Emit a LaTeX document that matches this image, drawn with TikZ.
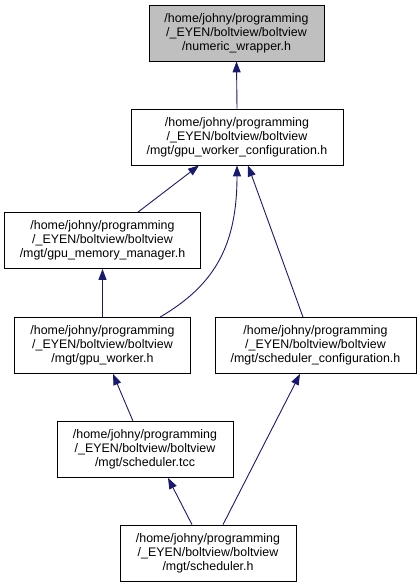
\documentclass[tikz,border=0pt]{standalone}
\usepackage{fontspec}
\setmainfont{Liberation Sans}
\usetikzlibrary{arrows.meta}

\definecolor{edgeblue}{RGB}{25,25,112}
\tikzset{
  file/.style={draw,thick,align=center,inner sep=2pt,minimum height=56pt,
    font=\fontsize{12.4}{13.8}\selectfont},
  dep/.style={<-,draw=edgeblue,line width=0.9pt,
    >={Triangle[length=11pt,width=8pt,fill=edgeblue]}}
}

\begin{document}
\begin{tikzpicture}[x=1pt,y=-1pt]
\useasboundingbox (0,0) rectangle (420,587);
\node[file,fill=black!25,minimum width=175pt] (nw) at (236.5,33) {/home/johny/programming\\/\_EYEN/boltview/boltview\\/numeric\_wrapper.h};
\node[file,minimum width=212pt] (gwc) at (237,137) {/home/johny/programming\\/\_EYEN/boltview/boltview\\/mgt/gpu\_worker\_configuration.h};
\node[file,minimum width=196pt] (gmm) at (102.5,240.5) {/home/johny/programming\\/\_EYEN/boltview/boltview\\/mgt/gpu\_memory\_manager.h};
\node[file,minimum width=176pt] (gw) at (102.5,345.5) {/home/johny/programming\\/\_EYEN/boltview/boltview\\/mgt/gpu\_worker.h};
\node[file,minimum width=201pt] (sc) at (315.5,345.5) {/home/johny/programming\\/\_EYEN/boltview/boltview\\/mgt/scheduler\_configuration.h};
\node[file,minimum width=176pt] (stcc) at (145,449.5) {/home/johny/programming\\/\_EYEN/boltview/boltview\\/mgt/scheduler.tcc};
\node[file,minimum width=176pt] (sh) at (208,553) {/home/johny/programming\\/\_EYEN/boltview/boltview\\/mgt/scheduler.h};
\draw[dep] (nw.south) -- (gwc.north);
\draw[dep] ([xshift=-38pt]gwc.south) -- ([xshift=35.5pt]gmm.north);
\draw[dep] ([xshift=0pt]gwc.south) .. controls (237,245) and (215,285) .. ([xshift=57.5pt]gw.north);
\draw[dep] ([xshift=11pt]gwc.south) -- ([xshift=-12.5pt]sc.north);
\draw[dep] (gmm.south) -- (gw.north);
\draw[dep] ([xshift=10.5pt]gw.south) -- ([xshift=-12pt]stcc.north);
\draw[dep] ([xshift=23pt]stcc.south) -- ([xshift=-16pt]sh.north);
\draw[dep] ([xshift=-15.5pt]sc.south) -- ([xshift=15pt]sh.north);
\end{tikzpicture}
\end{document}
